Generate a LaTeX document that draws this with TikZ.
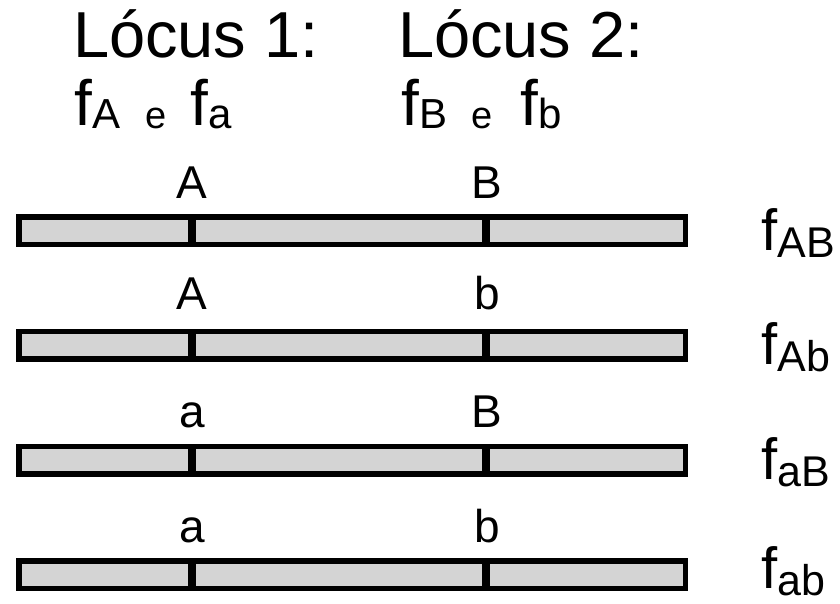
\documentclass[tikz,border=0pt]{standalone}
\usepackage{fontspec}
\setmainfont{Liberation Sans}
\definecolor{barfill}{RGB}{212,212,212}
% frequency symbol: a large f with a lowered subscript
\newcommand{\freqsym}[5]{{\fontsize{#3}{#3}\selectfont f}\raisebox{-#5pt}{\fontsize{#4}{#4}\selectfont #2}}
\tikzset{
  txt/.style={inner sep=0pt, outer sep=0pt, anchor=base west},
  allele/.style={inner sep=0pt, outer sep=0pt, anchor=base, font=\fontsize{46}{46}\selectfont},
  chromo/.style={draw=black, line width=5.5pt, fill=barfill},
  locusmark/.style={draw=black, line width=8pt},
}
\begin{document}
\begin{tikzpicture}[x=1pt, y=-1pt]
\useasboundingbox (0,0) rectangle (840,604);

% headings
\node[txt, font=\fontsize{65}{65}\selectfont] (l1) at (73,58) {Lócus 1:};
\node[txt, font=\fontsize{65}{65}\selectfont] (l2) at (398,58) {Lócus 2:};

% allele frequencies of each locus
\node[txt] (fA) at (74.5,126) {\freqsym{f}{A}{64}{42}{3}};
\node[txt, font=\fontsize{38}{38}\selectfont] (e1) at (145,129) {e};
\node[txt] (fa) at (190.5,126) {\freqsym{f}{a}{64}{42}{3}};
\node[txt] (fB) at (401.5,126) {\freqsym{f}{B}{64}{42}{3}};
\node[txt, font=\fontsize{38}{38}\selectfont] (e2) at (471,129) {e};
\node[txt] (fb) at (520.5,126) {\freqsym{f}{b}{64}{42}{3}};

% four chromosomes: row centre / label baseline / alleles / haplotype / f baseline
\foreach \yc/\yl/\aa/\bb/\hap/\yf [count=\i] in
  {230.5/198/A/B/AB/250, 345/309/A/b/Ab/364, 460/427/a/B/aB/479, 574.5/542/a/b/ab/588}{
  \path[chromo] (18.75,\yc-13.75) rectangle (685.25,\yc+13.75);
  \draw[locusmark] (192,\yc-13.75) -- (192,\yc+13.75);
  \draw[locusmark] (486,\yc-13.75) -- (486,\yc+13.75);
  \node[allele] (ra\i) at (192,\yl) {\aa};
  \node[allele] (rb\i) at (487,\yl) {\bb};
  \node[txt] (h\i) at (761.5,\yf) {\freqsym{f}{\hap}{58}{43}{7}};
}
\end{tikzpicture}
\end{document}
